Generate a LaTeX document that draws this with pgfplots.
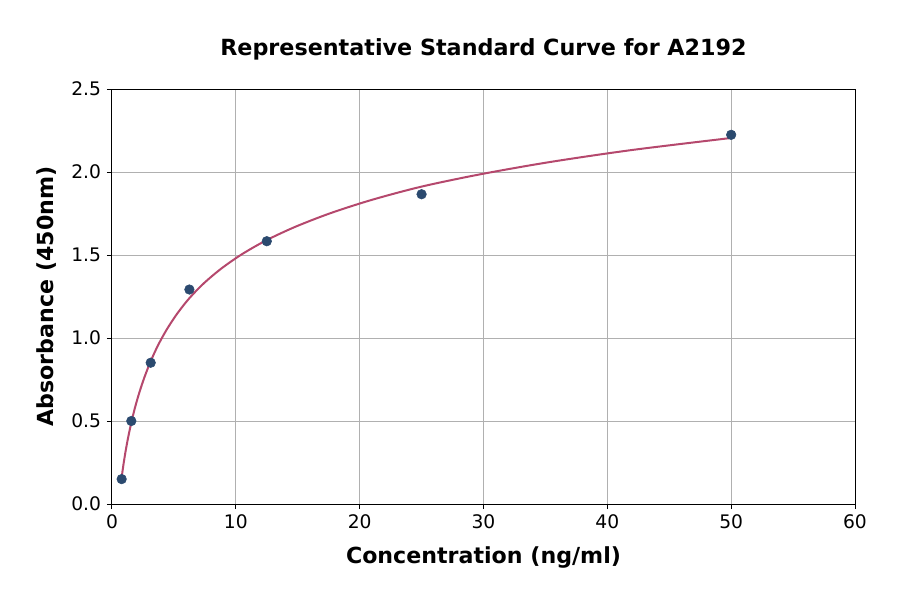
\documentclass[border=0pt]{standalone}
\usepackage{fontspec}
\setmainfont{DejaVu Sans}
\usepackage{pgfplots}
\pgfplotsset{compat=1.18}

\definecolor{ptcol}{HTML}{2B4A6F}
\definecolor{fitcol}{HTML}{B5486D}
\definecolor{gridcol}{HTML}{B0B0B0}

\begin{document}
\begin{tikzpicture}
\begin{axis}[
  at={(0,0)}, anchor=south west,
  width=557.25pt, height=311.25pt,
  scale only axis,
  xmin=0, xmax=60, ymin=0, ymax=2.5,
  xtick={0,10,20,30,40,50,60},
  ytick={0,0.5,1.0,1.5,2.0,2.5},
  yticklabel style={/pgf/number format/fixed, /pgf/number format/fixed zerofill, /pgf/number format/precision=1},
  /pgf/number format/assume math mode=true,
  tick label style={font=\fontsize{14}{16}\selectfont},
  xticklabel style={yshift=-1pt},
  yticklabel style={xshift=-1pt},
  tick align=outside,
  major tick length=3.75pt,
  tick style={black, line width=0.75pt},
  xtick pos=bottom, ytick pos=left,
  grid=major,
  major grid style={gridcol, line width=0.75pt},
  axis line style={black, line width=0.75pt},
  title={Representative Standard Curve for A2192},
  title style={font=\fontsize{16.7}{19}\selectfont\bfseries, at={(axis description cs:0.5,1)}, anchor=base, yshift=19pt},
  xlabel={Concentration (ng/ml)},
  xlabel style={font=\fontsize{16.6}{19}\selectfont\bfseries, at={(axis description cs:0.5,0)}, anchor=base, yshift=-44.25pt},
  ylabel={Absorbance (450nm)},
  ylabel style={font=\fontsize{16.6}{19}\selectfont\bfseries, at={(axis description cs:-0.0875,0.5)}, anchor=center},
  clip=true,
]
% fitted curve
\addplot[fitcol, line width=1.5pt, smooth, no markers] coordinates {
(0.78,0.16)(0.928,0.239)(1.103,0.32)(1.312,0.404)(1.56,0.49)(1.855,0.580)
(2.21,0.672)(2.627,0.765)(3.125,0.86)(3.716,0.956)(4.42,1.051)(5.256,1.146)
(6.25,1.24)(7.43,1.3305)(8.84,1.419)(10.51,1.5055)(12.5,1.59)(14.87,1.672)
(17.68,1.753)(21.02,1.833)(25,1.912)(29.73,1.986)(35.36,2.06)(42.04,2.133)
(50,2.205)
};
% standards
\addplot[only marks, mark=*, mark size=3.6pt, mark options={fill=ptcol, draw=ptcol}] coordinates {
(0.78,0.15)(1.56,0.50)(3.125,0.851)(6.25,1.292)(12.5,1.583)(25,1.866)(50,2.224)
};
\end{axis}
\pgfresetboundingbox
\path (-84pt,-67.5pt) rectangle (591pt,378pt);
\end{tikzpicture}
\end{document}
